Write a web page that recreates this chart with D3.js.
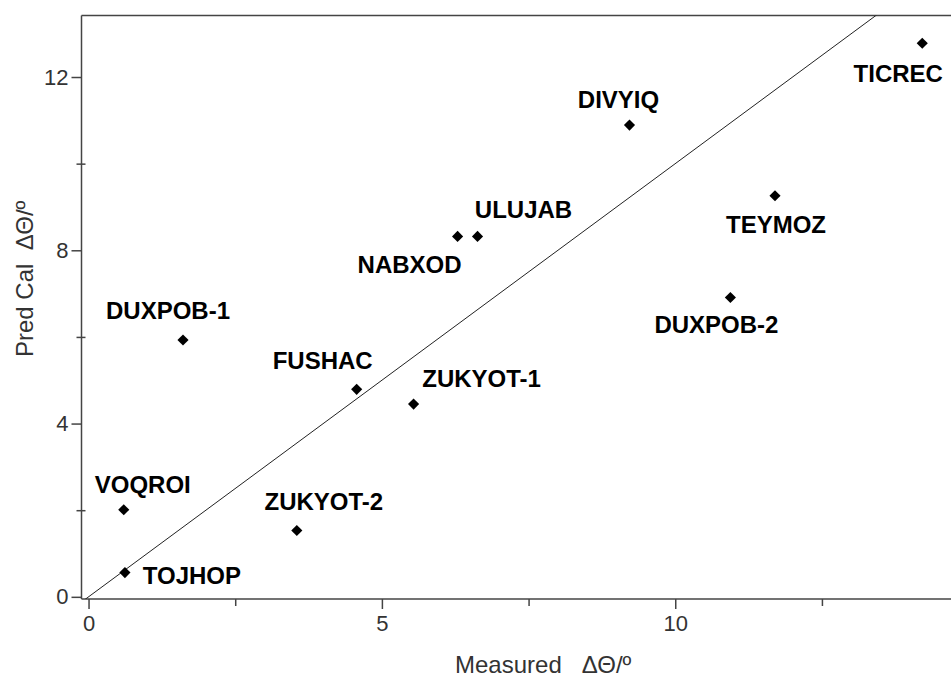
<!DOCTYPE html>
<html>
<head>
<meta charset="utf-8">
<script src="https://cdn.jsdelivr.net/npm/d3@7"></script>
<style>
  html, body { margin: 0; padding: 0; background: #fff; }
  svg { display: block; }
  text { font-family: "Liberation Sans", Arial, sans-serif; }
</style>
</head>
<body>
<svg id="chart" width="951" height="677"></svg>
<script>
// ---- data ----
const names = ["TICREC", "DIVYIQ", "ULUJAB", "NABXOD", "TEYMOZ", "DUXPOB-2", "FUSHAC",
               "ZUKYOT-1", "ZUKYOT-2", "DUXPOB-1", "VOQROI", "TOJHOP"];
const measured = [14.21, 9.22, 6.63, 6.29, 11.70, 10.94, 4.57, 5.54, 3.55, 1.61, 0.60, 0.62];
const predicted = [12.78, 10.89, 8.32, 8.32, 9.26, 6.91, 4.79, 4.45, 1.53, 5.93, 2.01, 0.56];
const xMajorTicks = [0, 5, 10];
const xMinorTicks = [2.5, 7.5, 12.5];
const yMajorTicks = [0, 4, 8, 12];
const yMinorTicks = [2, 6, 10];
const xTitle = "Measured   \u0394\u0398/\u00BA";
const yTitle = "Pred Cal  \u0394\u0398/\u00BA";

// label placement (pixel offsets from the marker: centre x, baseline y)
const labelDx = [-24, -11, 46, -48, 1, -14, -34, 68, 27, -15, 19, 67];
const labelDy = [39, -17, -18, 37, 37, 35, -20, -17, -21, -21, -17, 11];

(function () {
// ---- layout ----
const svg = d3.select("#chart");
const pL = 81.5, pR = 951, pT = 15.5, pB = 599;
const x = d3.scaleLinear().domain([-0.12, 14.70]).range([pL, pR]);
const y = d3.scaleLinear().domain([-0.05, 13.42]).range([pB, pT]);
const axisColor = "#444";
const textColor = "#333";

// frame top line
svg.append("line").attr("x1", pL).attr("x2", pR).attr("y1", pT).attr("y2", pT)
  .attr("stroke", axisColor).attr("stroke-width", 1.5);

// x axis
const xAxis = svg.append("g").attr("transform", `translate(0,${pB})`)
  .call(d3.axisBottom(x).tickValues(xMajorTicks).tickSize(10).tickPadding(6).tickFormat(d3.format("d")));
xAxis.select(".domain").attr("d", `M${pL},0H${pR}`).attr("stroke", axisColor).attr("stroke-width", 1.5);
xAxis.selectAll(".tick line").attr("stroke", axisColor).attr("stroke-width", 1.5);
xAxis.selectAll(".tick text").attr("fill", textColor).attr("font-size", 22).attr("font-family", "Liberation Sans, Arial, sans-serif");
const xMinor = svg.append("g").attr("transform", `translate(0,${pB})`)
  .call(d3.axisBottom(x).tickValues(xMinorTicks).tickSize(7).tickFormat(""));
xMinor.select(".domain").remove();
xMinor.selectAll(".tick line").attr("stroke", axisColor).attr("stroke-width", 1.5);

// y axis
const yAxis = svg.append("g").attr("transform", `translate(${pL},0)`)
  .call(d3.axisLeft(y).tickValues(yMajorTicks).tickSize(10).tickPadding(3).tickFormat(d3.format("d")));
yAxis.select(".domain").attr("d", `M0,${pT}V${pB}`).attr("stroke", axisColor).attr("stroke-width", 1.5);
yAxis.selectAll(".tick line").attr("stroke", axisColor).attr("stroke-width", 1.5);
yAxis.selectAll(".tick text").attr("fill", textColor).attr("font-size", 22).attr("font-family", "Liberation Sans, Arial, sans-serif");
const yMinor = svg.append("g").attr("transform", `translate(${pL},0)`)
  .call(d3.axisLeft(y).tickValues(yMinorTicks).tickSize(5).tickFormat(""));
yMinor.select(".domain").remove();
yMinor.selectAll(".tick line").attr("x2", -5).attr("x1", 4).attr("stroke", axisColor).attr("stroke-width", 1.5);

// diagonal y = x, clipped to plot
svg.append("clipPath").attr("id", "plotclip").append("rect")
  .attr("x", pL).attr("y", pT).attr("width", pR - pL).attr("height", pB - pT);
const diag = [x.domain()[0], y.domain()[1] + 1];
svg.append("line").attr("clip-path", "url(#plotclip)")
  .attr("x1", x(diag[0])).attr("y1", y(diag[0]))
  .attr("x2", x(diag[1])).attr("y2", y(diag[1]))
  .attr("stroke", "#222").attr("stroke-width", 1);

// points
const pts = names.map((n, i) => ({ n, mx: measured[i], py: predicted[i], dx: labelDx[i], dy: labelDy[i] }));
const diamond = d3.symbol().type(d3.symbolSquare).size(62);
svg.append("g").selectAll("path").data(pts).join("path")
  .attr("d", diamond)
  .attr("transform", d => `translate(${x(d.mx)},${y(d.py)}) rotate(45)`)
  .attr("fill", "#000");

// labels
svg.append("g").selectAll("text").data(pts).join("text")
  .attr("x", d => x(d.mx) + d.dx)
  .attr("y", d => y(d.py) + d.dy)
  .attr("text-anchor", "middle")
  .attr("font-size", 24).attr("font-weight", "bold").attr("fill", "#000")
  .text(d => d.n);

// axis titles
svg.append("text").attr("x", 455).attr("y", 673)
  .attr("font-size", 24).attr("fill", textColor).style("white-space", "pre")
  .text(xTitle);
svg.append("text").attr("transform", "translate(33,357) rotate(-90)")
  .attr("font-size", 24).attr("fill", textColor).style("white-space", "pre")
  .text(yTitle);
})();
</script>
</body>
</html>
